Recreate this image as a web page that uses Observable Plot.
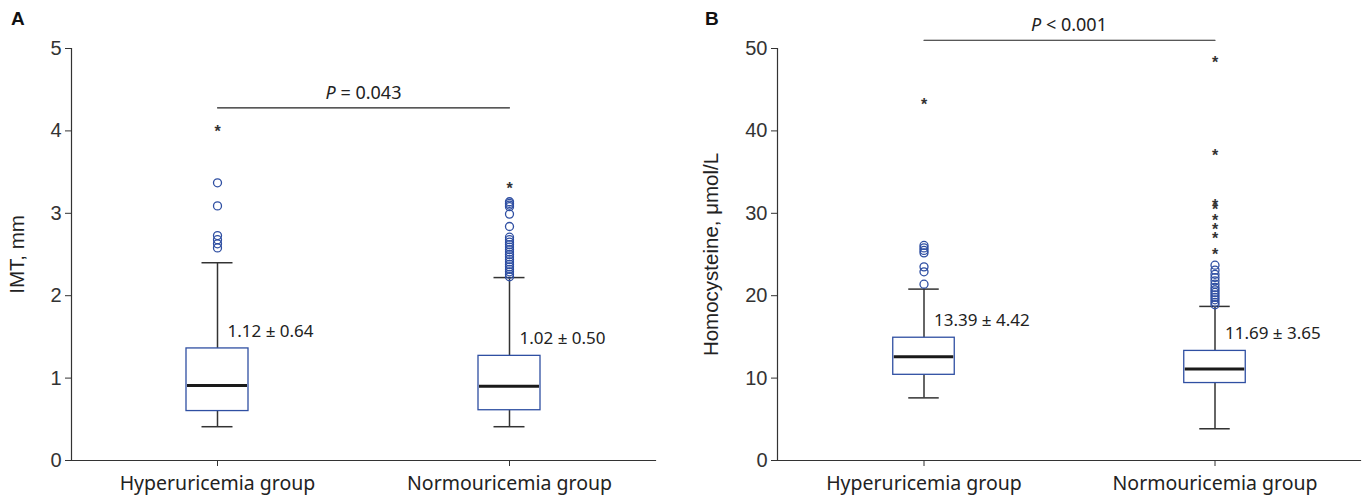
<!DOCTYPE html>
<html><head><meta charset="utf-8">
<script src="https://cdn.jsdelivr.net/npm/d3@7"></script>
<script src="https://cdn.jsdelivr.net/npm/@observablehq/plot@0.6"></script>
<style>
body{margin:0;background:#fff}
#wrap{display:flex;width:1366px;height:501px}
.panel{position:relative;width:683px;height:501px}
.tag{position:absolute;top:8px;font:bold 19px "Liberation Sans",Arial,sans-serif;color:#111}
g[aria-label="y-axis label"], g[aria-label="y-axis label"] text{font-size:20.5px !important;font-family:"Liberation Sans",Arial,sans-serif !important;fill:#222}
</style></head><body>
<div id="wrap">
  <div class="panel" id="a"><div class="tag" style="left:11px">A</div></div>
  <div class="panel" id="b"><div class="tag" style="left:22px">B</div></div>
</div>
<script>
const groups = ["Hyperuricemia group", "Normouricemia group"];

// Panel A: IMT, mm
const imtLow = [0.41, 0.41];
const imtQ1 = [0.60, 0.61];
const imtMedian = [0.91, 0.90];
const imtQ3 = [1.36, 1.27];
const imtHigh = [2.40, 2.22];
const imtLabels = ["1.12 ± 0.64", "1.02 ± 0.50"];
const imtOutHyper = [3.37, 3.09, 2.73, 2.68, 2.63, 2.58];
const imtOutNormo = [3.14, 3.12, 3.10, 3.08, 2.99, 2.84, 2.71, 2.68, 2.65, 2.62, 2.59, 2.56, 2.53, 2.50, 2.47, 2.44, 2.41, 2.38, 2.35, 2.32, 2.29, 2.26, 2.23];
const imtExtHyper = [4.04];
const imtExtNormo = [3.35];
const imtYTicks = [0, 1, 2, 3, 4, 5];
const imtP = "P = 0.043";
const imtPLevel = 4.28;

// Panel B: Homocysteine, μmol/L
const hcyLow = [7.6, 3.85];
const hcyQ1 = [10.4, 9.4];
const hcyMedian = [12.6, 11.1];
const hcyQ3 = [14.9, 13.3];
const hcyHigh = [20.8, 18.7];
const hcyLabels = ["13.39 ± 4.42", "11.69 ± 3.65"];
const hcyOutHyper = [21.4, 22.9, 23.5, 25.2, 25.5, 25.8, 26.1];
const hcyOutNormo = [23.7, 23.1, 22.6, 22.2, 21.8, 21.4, 21.0, 20.7, 20.4, 20.1, 19.8, 19.5, 19.2, 18.9];
const hcyExtHyper = [43.7];
const hcyExtNormo = [48.8, 37.4, 31.4, 30.9, 29.6, 28.5, 27.4, 25.5];
const hcyYTicks = [0, 10, 20, 30, 40, 50];
const hcyP = "P < 0.001";
const hcyPLevel = 51.0;

const BLUE = "#2f4fa2", DARK = "#333";

function boxPanel(o) {
  const W = 683, H = 501, mt = 48, mb = 41;
  const inner = W - o.marginLeft - o.marginRight;
  const band = inner / groups.length;
  const boxInset = (band - 62) / 2, capInset = (band - 31) / 2;
  const rows = groups.map((g, i) => ({group: g, low: o.low[i], q1: o.q1[i], median: o.median[i], q3: o.q3[i], high: o.high[i], label: o.labels[i]}));
  const outs = o.outliers.flatMap((arr, i) => arr.map(v => ({group: groups[i], v})));
  const exts = o.extremes.flatMap((arr, i) => arr.map(v => ({group: groups[i], v})));
  const plot = Plot.plot({
    width: W, height: H, marginTop: mt, marginBottom: mb,
    marginLeft: o.marginLeft, marginRight: o.marginRight,
    style: {background: "white", overflow: "visible", fontSize: "19.5px", fontFamily: "Liberation Sans", color: "#222"},
    x: {type: "band", domain: groups, padding: 0},
    y: {domain: o.yDomain},
    marks: [
      Plot.axisX({tickSize: 6, tickPadding: 10, fontSize: 19.5, fontFamily: "Noto Sans", color: "#222", stroke: DARK, label: null}),
      Plot.axisY({ticks: o.yTicks, tickFormat: d => String(d), tickSize: 6, tickPadding: 4, fontSize: 20, fontFamily: "Liberation Sans", color: "#333", stroke: DARK,
        label: o.yLabel, labelAnchor: "center", labelArrow: "none", labelOffset: o.labelOffset}),
      Plot.frame({anchor: "left", stroke: DARK, strokeWidth: 1.2}),
      Plot.frame({anchor: "bottom", stroke: DARK, strokeWidth: 1.2}),
      Plot.ruleX(rows, {x: "group", y1: "low", y2: "q1", stroke: DARK, strokeWidth: 1.5}),
      Plot.ruleX(rows, {x: "group", y1: "q3", y2: "high", stroke: DARK, strokeWidth: 1.5}),
      Plot.tickY(rows, {x: "group", y: "low", insetLeft: capInset, insetRight: capInset, stroke: DARK, strokeWidth: 1.5}),
      Plot.tickY(rows, {x: "group", y: "high", insetLeft: capInset, insetRight: capInset, stroke: DARK, strokeWidth: 1.5}),
      Plot.barY(rows, {x: "group", y1: "q1", y2: "q3", fill: "white", stroke: BLUE, strokeWidth: 1.3, insetLeft: boxInset, insetRight: boxInset}),
      Plot.tickY(rows, {x: "group", y: "median", insetLeft: boxInset + 1, insetRight: boxInset + 1, stroke: "#1a1a1a", strokeWidth: 3}),
      Plot.dot(outs, {x: "group", y: "v", r: 4, stroke: BLUE, strokeWidth: 1.3, fill: "none"}),
      Plot.text(exts, {x: "group", y: "v", text: () => "*", fontSize: 16, fontWeight: "bold", dy: 4, fill: DARK, fontFamily: "Liberation Sans"}),
      Plot.text(rows, {x: "group", y: "q3", text: "label", dx: 10, dy: -17, textAnchor: "start", fontSize: 17, fill: "#222", fontFamily: "Noto Sans"}),
      Plot.line(groups.map(g => ({group: g, p: o.pLevel})), {x: "group", y: "p", stroke: "#222", strokeWidth: 1.2}),
      Plot.text([o.pLevel], {y: d => d, text: () => o.pText, dy: -15, frameAnchor: "middle", fontSize: 18, fill: "#222", fontFamily: "Noto Sans"})
    ]
  });
  d3.select(plot).selectAll("text").each(function() {
    const t = d3.select(this);
    if (t.selectAll("tspan").size() === 0 && t.text() === o.pText) {
      const s = o.pText;
      t.text(null);
      t.append("tspan").attr("font-style", "italic").text(s.slice(0, 1));
      t.append("tspan").text(s.slice(1));
    }
  });
  return plot;
}

document.getElementById("a").append(boxPanel({
  low: imtLow, q1: imtQ1, median: imtMedian, q3: imtQ3, high: imtHigh, labels: imtLabels,
  outliers: [imtOutHyper, imtOutNormo], extremes: [imtExtHyper, imtExtNormo],
  yDomain: [0, 5], yTicks: imtYTicks, yLabel: "IMT, mm", labelOffset: 62,
  pText: imtP, pLevel: imtPLevel, marginLeft: 71, marginRight: 28
}));
document.getElementById("b").append(boxPanel({
  low: hcyLow, q1: hcyQ1, median: hcyMedian, q3: hcyQ3, high: hcyHigh, labels: hcyLabels,
  outliers: [hcyOutHyper, hcyOutNormo], extremes: [hcyExtHyper, hcyExtNormo],
  yDomain: [0, 50], yTicks: hcyYTicks, yLabel: "Homocysteine, μmol/L", labelOffset: 74,
  pText: hcyP, pLevel: hcyPLevel, marginLeft: 94, marginRight: 6
}));
</script>
</body></html>
